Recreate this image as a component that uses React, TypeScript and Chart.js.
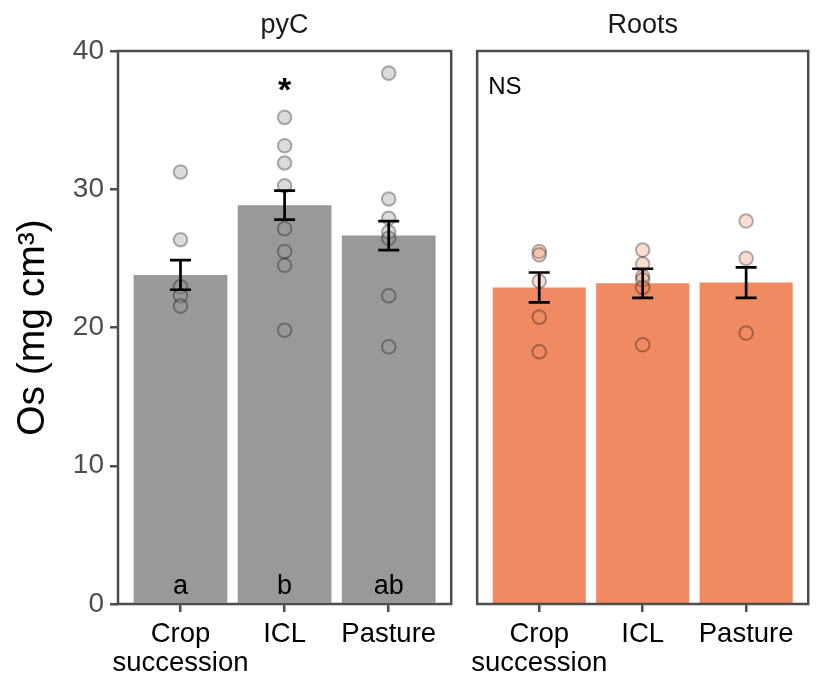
import React, { useEffect, useRef } from "react";
import { Chart, registerables } from "chart.js";

Chart.register(...registerables);

const FONT = "'Liberation Sans', Arial, sans-serif";

// categories and tick labels
const categories: (string | string[])[] = [["Crop", "succession"], "ICL", "Pasture"];
const yTickStep = 10;
const yMin = 0;
const yMax = 40;

// pyC panel
const pycMeans = [23.8, 28.85, 26.65];
const pycSE = [1.07, 1.05, 1.05];
const pycCrop = [31.25, 26.35, 22.95, 22.3, 21.55];
const pycICL = [35.2, 33.15, 31.9, 30.25, 27.15, 25.5, 24.5, 19.8];
const pycPasture = [38.4, 29.3, 27.9, 26.9, 26.45, 22.3, 18.6];
const pycLetters = ["a", "b", "ab"];

// Roots panel
const rootsMeans = [22.9, 23.2, 23.25];
const rootsSE = [1.08, 1.05, 1.1];
const rootsCrop = [25.5, 25.25, 23.35, 20.75, 18.25];
const rootsICL = [25.6, 24.6, 23.7, 23.45, 22.9, 18.75];
const rootsPasture = [27.7, 25.0, 19.6];

const BORDER = "#4d4d4d";

type PanelCfg = {
  strip: string;
  means: number[];
  se: number[];
  points: number[][];
  barColor: string;
  pointFill: string;
  showY: boolean;
  padLeft: number;
  padRight: number;
  letters?: string[];
  star?: number; // category index with star
  ns?: boolean;
};

const panelPlugin = (cfg: PanelCfg) => ({
  id: "panelDecor",
  afterDatasetsDraw(chart: any) {
    const { ctx, chartArea } = chart;
    const xs = chart.scales.x;
    const ys = chart.scales.y;
    ctx.save();
    // error bars
    ctx.strokeStyle = "#000";
    ctx.lineWidth = 2.7;
    cfg.means.forEach((m, i) => {
      const x = xs.getPixelForValue(i + 1);
      const yt = ys.getPixelForValue(m + cfg.se[i]);
      const yb = ys.getPixelForValue(m - cfg.se[i]);
      ctx.beginPath();
      ctx.moveTo(x, yt);
      ctx.lineTo(x, yb);
      ctx.moveTo(x - 10.5, yt);
      ctx.lineTo(x + 10.5, yt);
      ctx.moveTo(x - 10.5, yb);
      ctx.lineTo(x + 10.5, yb);
      ctx.stroke();
    });
    ctx.fillStyle = "#000";
    if (cfg.letters) {
      ctx.font = `27px ${FONT}`;
      ctx.textAlign = "center";
      ctx.textBaseline = "alphabetic";
      cfg.letters.forEach((l, i) => {
        ctx.fillText(l, xs.getPixelForValue(i + 1), ys.getPixelForValue(0.75));
      });
    }
    if (cfg.star !== undefined) {
      ctx.font = `bold 34px ${FONT}`;
      ctx.textAlign = "center";
      ctx.textBaseline = "alphabetic";
      ctx.fillText("*", xs.getPixelForValue(cfg.star + 1), ys.getPixelForValue(36.4));
    }
    if (cfg.ns) {
      ctx.font = `24px ${FONT}`;
      ctx.textAlign = "left";
      ctx.textBaseline = "alphabetic";
      ctx.fillText("NS", chartArea.left + 11, ys.getPixelForValue(36.9));
    }
    ctx.restore();
  },
  afterDraw(chart: any) {
    const { ctx, chartArea } = chart;
    ctx.save();
    ctx.strokeStyle = BORDER;
    ctx.lineWidth = 2.5;
    ctx.strokeRect(
      chartArea.left,
      chartArea.top,
      chartArea.right - chartArea.left,
      chartArea.bottom - chartArea.top
    );
    ctx.restore();
  },
});

function makeConfig(cfg: PanelCfg): any {
  const pts: { x: number; y: number }[] = [];
  cfg.points.forEach((arr, i) => arr.forEach((v) => pts.push({ x: i + 1, y: v })));
  const gridOpts = {
    drawOnChartArea: false,
    drawTicks: true,
    tickLength: 8,
    color: BORDER,
    lineWidth: 2.5,
    offset: false,
  };
  return {
    type: "bar",
    data: {
      datasets: [
        {
          type: "bar",
          data: cfg.means.map((v, i) => ({ x: i + 1, y: v })),
          backgroundColor: cfg.barColor,
          borderWidth: 0,
          categoryPercentage: 0.9,
          barPercentage: 1,
          order: 2,
        },
        {
          type: "scatter",
          data: pts,
          pointRadius: 6.8,
          pointBackgroundColor: cfg.pointFill,
          pointBorderColor: "rgba(0,0,0,0.3)",
          pointBorderWidth: 2,
          order: 1,
        },
      ],
    },
    options: {
      responsive: false,
      animation: false,
      layout: { padding: { left: cfg.padLeft, right: cfg.padRight, top: 0, bottom: 0 } },
      plugins: {
        legend: { display: false },
        tooltip: { enabled: false },
        title: {
          display: true,
          text: cfg.strip,
          fullSize: false,
          color: "#1a1a1a",
          font: { family: FONT, size: 27, weight: "normal", lineHeight: 1.2 },
          padding: { top: 9, bottom: 9.6 },
        },
      },
      scales: {
        x: {
          type: "linear",
          min: 0.4,
          max: 3.6,
          offset: false,
          afterBuildTicks: (s: any) => {
            s.ticks = categories.map((_, i) => ({ value: i + 1 }));
          },
          afterFit: (s: any) => {
            s.height = 78;
          },
          ticks: {
            callback: (_v: any, i: number) => categories[i],
            color: "#000",
            font: { family: FONT, size: 27.5, lineHeight: 1.06 },
            padding: 8,
            maxRotation: 0,
            minRotation: 0,
            autoSkip: false,
          },
          grid: gridOpts,
          border: { display: false },
        },
        y: {
          display: cfg.showY,
          min: yMin,
          max: yMax,
          afterFit: (s: any) => {
            s.width = cfg.showY ? 118 : 0;
          },
          ticks: {
            stepSize: yTickStep,
            color: BORDER,
            font: { family: FONT, size: 28 },
            padding: 6,
          },
          grid: gridOpts,
          border: { display: false },
          title: {
            display: cfg.showY,
            text: "Os (mg cm³)",
            color: "#000",
            font: { family: FONT, size: 39 },
            padding: { top: 10, bottom: 0 },
          },
        },
      },
    },
    plugins: [panelPlugin(cfg)],
  };
}

export default function App() {
  const leftRef = useRef<HTMLCanvasElement | null>(null);
  const rightRef = useRef<HTMLCanvasElement | null>(null);

  useEffect(() => {
    Chart.defaults.font.family = FONT;
    const left = new Chart(
      leftRef.current as HTMLCanvasElement,
      makeConfig({
        strip: "pyC",
        means: pycMeans,
        se: pycSE,
        points: [pycCrop, pycICL, pycPasture],
        barColor: "#999999",
        pointFill: "rgba(153,153,153,0.35)",
        showY: true,
        padLeft: 0,
        padRight: 3,
        letters: pycLetters,
        star: 1,
      })
    );
    const right = new Chart(
      rightRef.current as HTMLCanvasElement,
      makeConfig({
        strip: "Roots",
        means: rootsMeans,
        se: rootsSE,
        points: [rootsCrop, rootsICL, rootsPasture],
        barColor: "#EF8A62",
        pointFill: "rgba(239,138,98,0.3)",
        showY: false,
        padLeft: 16,
        padRight: 2,
        ns: true,
      })
    );
    return () => {
      left.destroy();
      right.destroy();
    };
  }, []);

  return (
    <div style={{ position: "fixed", left: 0, top: 0, width: 817, height: 682, background: "#fff" }}>
      <canvas
        ref={leftRef}
        width={460}
        height={682}
        style={{ position: "absolute", left: 0, top: 0, display: "block" }}
      />
      <canvas
        ref={rightRef}
        width={357}
        height={682}
        style={{ position: "absolute", left: 460, top: 0, display: "block" }}
      />
    </div>
  );
}
